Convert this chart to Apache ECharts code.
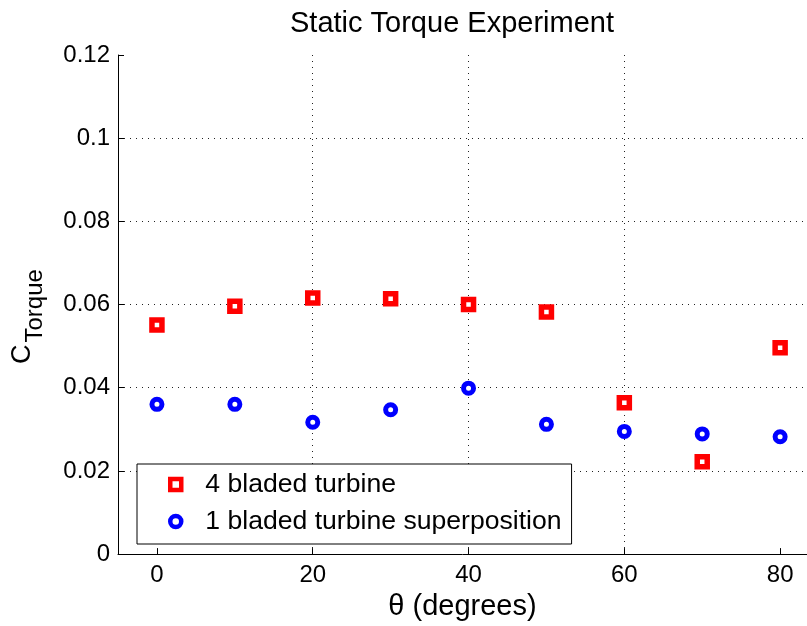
<!DOCTYPE html>
<html>
<head>
<meta charset="utf-8">
<script src="https://cdn.jsdelivr.net/npm/echarts@6/dist/echarts.min.js"></script>
<style>
html,body{margin:0;padding:0;background:#fff;}
#chart{width:807px;height:626px;}
</style>
</head>
<body>
<div id="chart"></div>
<script>
var angles = [0, 10, 20, 30, 40, 50, 60, 70, 80];
var fourBlade = [0.0551, 0.0596, 0.0616, 0.0614, 0.0600, 0.0582, 0.0364, 0.0222, 0.0496];
var oneBladeSup = [0.0360, 0.0360, 0.0317, 0.0347, 0.0399, 0.0312, 0.0295, 0.0289, 0.0282];
var xTicks = [0, 20, 40, 60, 80];
var seriesNames = ['4 bladed turbine', '1 bladed turbine superposition'];
var titleText = 'Static Torque Experiment';
var xName = 'θ (degrees)';

function pairs(xs, ys) { return xs.map(function (x, i) { return [x, ys[i]]; }); }

var FONT = 'Liberation Sans';
var RED = '#ff0000', BLUE = '#0000ff';
var chart = echarts.init(document.getElementById('chart'), null, {renderer: 'canvas'});
var gridLine = {show: true, showMinLine: false, showMaxLine: false, lineStyle: {color: '#222', width: 1, type: [1, 5]}};
chart.setOption({
  animation: false,
  backgroundColor: '#fff',
  title: {
    text: titleText, left: 285, top: 4,
    textStyle: {fontFamily: FONT, fontSize: 29, fontWeight: 'normal', color: '#000'}
  },
  grid: {left: 118, right: 0, top: 55, bottom: 71, containLabel: false},
  legend: {
    orient: 'vertical', left: 137, top: 464,
    padding: [7, 10, 9, 31],
    itemWidth: 11, itemHeight: 11, itemGap: 10,
    backgroundColor: '#fff', borderColor: '#000', borderWidth: 1,
    textStyle: {fontFamily: FONT, fontSize: 26.6, color: '#000', padding: [0, 0, 0, 19]},
    data: [
      {name: seriesNames[0], icon: 'rect', itemStyle: {color: '#fff', borderColor: RED, borderWidth: 4.5, opacity: 1}},
      {name: seriesNames[1], icon: 'circle', itemStyle: {color: '#fff', borderColor: BLUE, borderWidth: 4.5, opacity: 1}}
    ]
  },
  xAxis: {
    type: 'value', min: -5, max: 83.45, splitNumber: 4,
    name: xName, nameLocation: 'middle', nameGap: 37,
    nameTextStyle: {fontFamily: FONT, fontSize: 29, color: '#000'},
    axisLine: {show: true, onZero: false, lineStyle: {color: '#000', width: 1}},
    axisTick: {show: true, inside: true, length: 6, customValues: xTicks, lineStyle: {color: '#000'}},
    axisLabel: {show: true, customValues: xTicks, fontFamily: FONT, fontSize: 24, color: '#000', margin: 9},
    splitLine: gridLine
  },
  yAxis: {
    type: 'value', min: 0, max: 0.12, interval: 0.02,
    name: '{c|C}{s|Torque}', nameLocation: 'middle', nameGap: 71, nameRotate: 90,
    nameTextStyle: {
      rich: {
        c: {fontFamily: FONT, fontSize: 27, color: '#000', verticalAlign: 'bottom', padding: [0, 2, 11, 0]},
        s: {fontFamily: FONT, fontSize: 24, color: '#000', verticalAlign: 'bottom', padding: [0, 24, 0, 0]}
      }
    },
    axisLine: {show: true, onZero: false, lineStyle: {color: '#000', width: 1}},
    axisTick: {show: true, inside: true, length: 6, lineStyle: {color: '#000'}},
    axisLabel: {fontFamily: FONT, fontSize: 24, color: '#000', margin: 8},
    splitLine: gridLine
  },
  series: [
    {
      name: seriesNames[0], type: 'scatter', symbol: 'rect', symbolSize: 10,
      itemStyle: {color: '#fff', borderColor: RED, borderWidth: 5.5, opacity: 1},
      data: pairs(angles, fourBlade), z: 3
    },
    {
      name: seriesNames[1], type: 'scatter', symbol: 'circle', symbolSize: 10,
      itemStyle: {color: '#fff', borderColor: BLUE, borderWidth: 5, opacity: 1},
      data: pairs(angles, oneBladeSup), z: 3
    }
  ]
});
</script>
</body>
</html>
